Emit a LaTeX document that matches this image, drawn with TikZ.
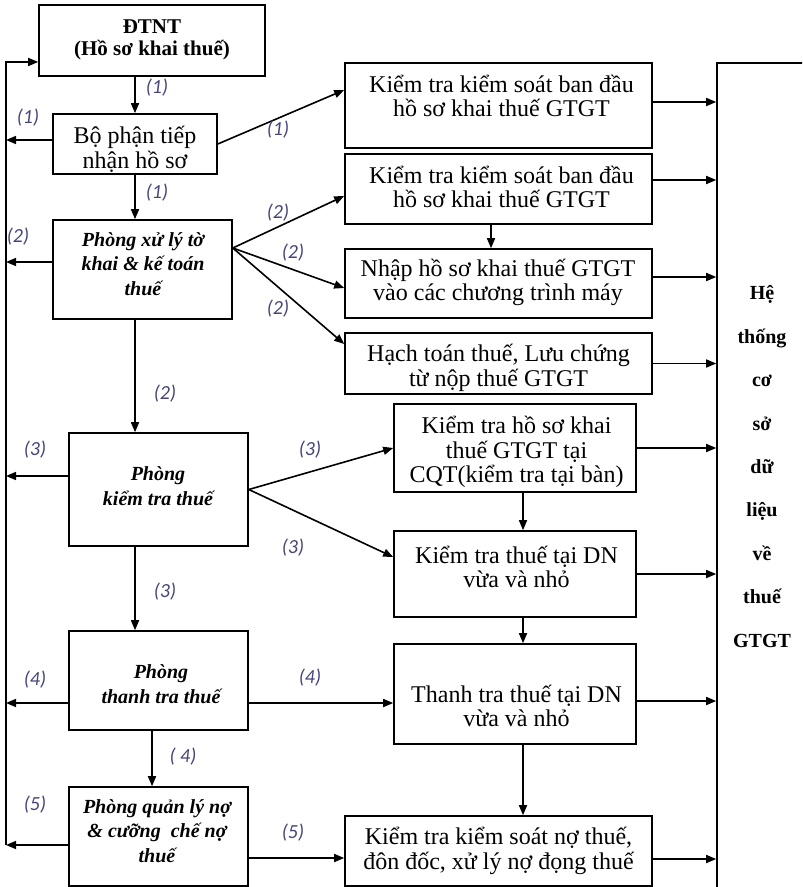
\documentclass[tikz,border=0pt]{standalone}
\usepackage{fontspec}
\setmainfont{Liberation Serif}
\newfontfamily\labfont{Carlito}
\usetikzlibrary{arrows.meta}
\definecolor{labcol}{HTML}{45457A}

\begin{document}
\begin{tikzpicture}[x=0.5pt,y=-0.5pt,line width=0.8pt,>={Triangle[length=5pt,width=4pt]},
    box/.style={draw,inner sep=0pt},
    txt/.style={align=center,font=\fontsize{12}{12.25}\selectfont},
    head/.style={align=center,font=\fontsize{10.5}{11}\selectfont\bfseries},
    dept/.style={align=center,font=\fontsize{10}{12.25}\selectfont\bfseries\itshape},
    db/.style={align=center,font=\fontsize{10}{21.7}\selectfont\bfseries},
    lab/.style={text=labcol,font=\labfont\itshape\fontsize{10}{12}\selectfont}]
  \path[use as bounding box] (0,0) rectangle (802,887);
  \clip (0,0) rectangle (802,887);
  % left column: the offices
  \node[box,minimum width=113pt,minimum height=35.5pt] (dtnt) at (152,40.5) {};
  \node[head] (dtntt) at (152,40) {ĐTNT\\(Hồ sơ khai thuế)};
  \node[box,minimum width=82pt,minimum height=30pt] (bp) at (135,144) {};
  \node[txt] (bpt) at (135,149.5) {Bộ phận tiếp\\nhận hồ sơ};
  \node[box,minimum width=89.5pt,minimum height=49.5pt] (px) at (142.5,269.5) {};
  \node[dept] (pxt) at (143,264) {Phòng xử lý tờ\\khai \& kế toán\\thuế};
  \node[box,minimum width=89.5pt,minimum height=56.5pt] (pkt) at (158.5,489.5) {};
  \node[dept] (pktt) at (158,486) {Phòng\\kiểm tra thuế};
  \node[box,minimum width=89.5pt,minimum height=49.5pt] (ptt) at (158.5,680.5) {};
  \node[dept] (pttt) at (161,684) {Phòng\\thanh tra thuế};
  \node[box,minimum width=89.5pt,minimum height=49.5pt] (qln) at (158.5,836.5) {};
  \node[dept] (qlnt) at (157,831) {Phòng quản lý nợ\\\& cưỡng\ \ chế nợ\\thuế};
  % right column: the tasks
  \node[box,minimum width=153.5pt,minimum height=42.5pt] (k1) at (498.5,105.5) {};
  \node[txt] (k1t) at (501.5,96) {Kiểm tra kiểm soát ban đầu\\hồ sơ khai thuế GTGT};
  \node[box,minimum width=153.5pt,minimum height=35pt] (k2) at (498.5,189) {};
  \node[txt] (k2t) at (501.5,187) {Kiểm tra kiểm soát ban đầu\\hồ sơ khai thuế GTGT};
  \node[box,minimum width=153.5pt,minimum height=34.5pt] (k3) at (498.5,283.5) {};
  \node[txt] (k3t) at (498,282.5) {Nhập hồ sơ khai thuế GTGT\\vào các chương trình máy};
  \node[box,minimum width=153.5pt,minimum height=30.5pt] (k4) at (498.5,363.5) {};
  \node[txt] (k4t) at (498.5,368) {Hạch toán thuế, Lưu chứng\\từ nộp thuế GTGT};
  \node[box,minimum width=121pt,minimum height=44pt] (k5) at (515,448) {};
  \node[txt] (k5t) at (516.5,452) {Kiểm tra hồ sơ khai\\thuế GTGT tại\\CQT(kiểm tra tại bàn)};
  \node[box,minimum width=121pt,minimum height=43pt] (k6) at (515,574) {};
  \node[txt] (k6t) at (516.5,567) {Kiểm tra thuế tại DN\\vừa và nhỏ};
  \node[box,minimum width=121pt,minimum height=50pt] (k7) at (515,694) {};
  \node[txt] (k7t) at (516.5,706) {Thanh tra thuế tại DN\\vừa và nhỏ};
  \node[box,minimum width=153.5pt,minimum height=35pt] (k8) at (498.5,851) {};
  \node[txt] (k8t) at (498.5,851) {Kiểm tra kiểm soát nợ thuế,\\đôn đốc, xử lý nợ đọng thuế};
  % database
  \node[box,minimum width=50pt,minimum height=417pt] (csdl) at (767,480) {};
  \node[db] (csdlt) at (762,466.5) {Hệ\\thống\\cơ\\sở\\dữ\\liệu\\về\\thuế\\GTGT};
  % main flow downwards
  \draw[->] (bp |- dtnt.south) -- (bp.north);
  \draw[->] (bp.south) -- (bp |- px.north);
  \draw[->] (bp |- px.south) -- (bp |- pkt.north);
  \draw[->] (bp |- pkt.south) -- (bp |- ptt.north);
  \draw[->] ([xshift=-3.25pt]ptt.south) -- ([xshift=-3.25pt]ptt.south |- qln.north);
  % feedback to the taxpayer
  \coordinate (fbtop) at (6,62);
  \coordinate (fbbot) at (6,845);
  \draw[->] (fbbot) -- (fbtop) -- (fbtop -| dtnt.west);
  \foreach \n/\dy in {bp/2,px/3.75,pkt/6.75,ptt/-11.25,qln/-4.25}
    \draw[->] ([yshift=\dy pt]\n.west) -- ([yshift=\dy pt]\n.west -| fbtop);
  % to the tasks
  \draw[->] (bp.east) -- ([yshift=7.75pt]k1.west);
  \foreach \k/\dy in {k2/-3.5,k3/-2.25,k4/9.75}
    \draw[->] ([yshift=10.75pt]px.east) -- ([yshift=\dy pt]\k.west);
  \draw[->] (pkt.east) -- (k5.west);
  \draw[->] (pkt.east) -- ([yshift=8.5pt]k6.west);
  \draw[->] ([yshift=-11.25pt]ptt.east) -- ([yshift=-11.25pt]ptt.east -| k7.west);
  \draw[->] ([yshift=-10.75pt]qln.east) -- ([yshift=-10.75pt]qln.east -| k8.west);
  \draw[->] ([xshift=-3.75pt]k2.south) -- ([xshift=-3.75pt]k2.south |- k3.north);
  \foreach \a/\b in {k5/k6,k6/k7,k7/k8}
    \draw[->] ([xshift=4pt]\a.south) -- ([xshift=4pt]\a.south |- \b.north);
  \foreach \n/\dy in {k1/1.75,k2/4.5,k3/3.25,k4/0,k5/0,k6/0,k7/-3.5,k8/-4}
    \draw[->] ([yshift=\dy pt]\n.east) -- ([yshift=\dy pt]\n.east -| csdl.west);
  % step numbers
  \foreach \x/\y/\t [count=\i] in {157/88/(1),28/118/(1),278/130/(1),157/193/(1),
      18/237/(2),278/213/(2),293/253/(2),278/309/(2),165/394/(2),
      35/450/(3),310/450/(3),293/548/(3),165/592/(3),
      35/680/(4),310/678/(4),183/757/( 4),35/805/(5),293/833/(5)}
    \node[lab] (lab\i) at (\x,\y) {\t};
\end{tikzpicture}
\end{document}
